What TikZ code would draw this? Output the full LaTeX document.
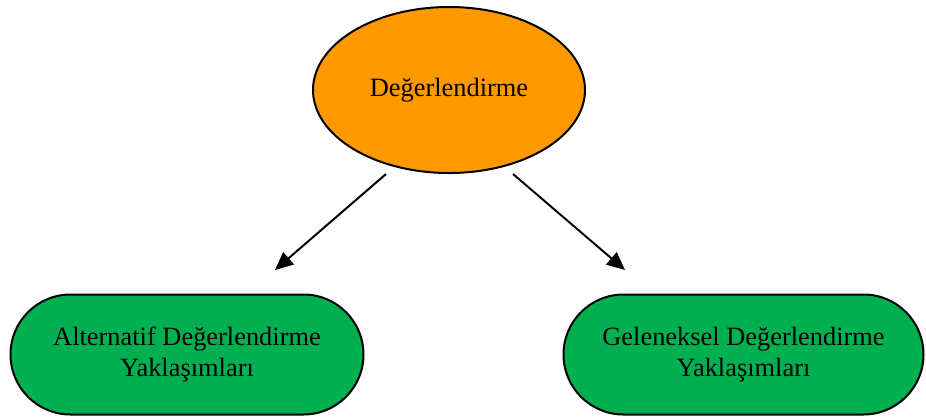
\documentclass[tikz,border=0pt]{standalone}
\usepackage{fontspec}
\setmainfont{Liberation Serif}
\usetikzlibrary{shapes.geometric,shapes.misc,arrows.meta}
\definecolor{orangefill}{HTML}{FF9900}
\definecolor{greenfill}{HTML}{00B050}
\begin{document}
\begin{tikzpicture}[x=0.5pt,y=-0.5pt,
  txt/.style={font=\fontsize{13.2pt}{15.5pt}\selectfont, text=black},
  topnode/.style={ellipse, draw=black, line width=1pt, fill=orangefill, minimum width=136pt, minimum height=83pt, inner sep=0pt, txt},
  leafnode/.style={rounded rectangle, draw=black, line width=1pt, fill=greenfill, minimum height=60pt, inner sep=0pt, align=center, txt},
  link/.style={line width=1pt, -{Triangle[length=9pt,width=8pt]}}
]
\useasboundingbox (0,0) rectangle (926,419);
\node[topnode] (top) at (449,90) {Değerlendirme};
\node[leafnode, minimum width=176.5pt] (alt) at (187,354.5) {Alternatif Değerlendirme\\Yaklaşımları};
\node[leafnode, minimum width=180pt] (gel) at (743.5,354.5) {Geleneksel Değerlendirme\\Yaklaşımları};
\coordinate (s1) at (386,174);
\coordinate (e1) at (275,270);
\coordinate (s2) at (513,174);
\coordinate (e2) at (625,270);
\draw[link] (s1) -- (e1);
\draw[link] (s2) -- (e2);
\end{tikzpicture}
\end{document}
